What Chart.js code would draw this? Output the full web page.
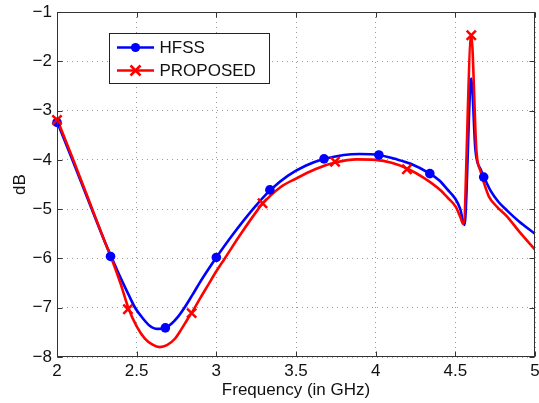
<!DOCTYPE html>
<html><head><meta charset="utf-8">
<script src="https://cdn.jsdelivr.net/npm/chart.js@4/dist/chart.umd.min.js"></script>
<style>html,body{margin:0;padding:0;background:#fff;overflow:hidden}</style>
</head><body>
<canvas id="c" width="539" height="403" style="display:block;width:539px;height:403px"></canvas>
<script>
// ---- data ----
const seriesNames = ['HFSS', 'PROPOSED'];
const xTicks = [2, 2.5, 3, 3.5, 4, 4.5, 5];
const yTicks = [-8, -7, -6, -5, -4, -3, -2, -1];

const hfssFreq = [2.00, 2.10, 2.20, 2.30, 2.34, 2.40, 2.45, 2.49, 2.54, 2.58, 2.63, 2.68, 2.72, 2.76, 2.80, 2.85, 2.90, 2.95, 3.00, 3.10, 3.23, 3.34, 3.45, 3.56, 3.68, 3.80, 3.90, 4.02, 4.12, 4.22, 4.34, 4.40, 4.45, 4.50, 4.53, 4.557, 4.60, 4.626, 4.66, 4.68, 4.72, 4.77, 4.825, 4.90, 5.00];
const hfssDb   = [-3.22, -4.03, -4.85, -5.66, -5.96, -6.40, -6.74, -7.00, -7.22, -7.36, -7.43, -7.41, -7.32, -7.18, -7.00, -6.74, -6.47, -6.22, -5.98, -5.53, -5.00, -4.61, -4.32, -4.12, -3.98, -3.90, -3.88, -3.90, -3.98, -4.08, -4.28, -4.42, -4.60, -4.79, -4.99, -5.32, -2.35, -3.80, -4.20, -4.35, -4.62, -4.85, -5.03, -5.25, -5.50];

const propFreq = [2.00, 2.10, 2.20, 2.30, 2.34, 2.40, 2.445, 2.50, 2.55, 2.60, 2.645, 2.69, 2.74, 2.78, 2.82, 2.85, 2.90, 2.95, 3.00, 3.053, 3.15, 3.263, 3.29, 3.40, 3.50, 3.62, 3.75, 3.88, 4.00, 4.10, 4.20, 4.30, 4.405, 4.45, 4.504, 4.53, 4.55, 4.60, 4.632, 4.66, 4.68, 4.71, 4.76, 4.825, 4.90, 5.00];
const propDb   = [-3.17, -3.98, -4.82, -5.66, -5.98, -6.52, -6.98, -7.38, -7.62, -7.75, -7.80, -7.76, -7.63, -7.44, -7.23, -7.08, -6.80, -6.53, -6.26, -6.00, -5.52, -5.00, -4.89, -4.56, -4.38, -4.19, -4.05, -3.99, -4.00, -4.06, -4.18, -4.36, -4.61, -4.76, -4.96, -5.15, -5.30, -1.47, -3.80, -4.25, -4.47, -4.74, -4.95, -5.15, -5.45, -5.82];

const hfssMarkFreq = [2.00, 2.336, 2.68, 3.00, 3.336, 3.676, 4.02, 4.34, 4.678];
const hfssMarkDb   = [-3.24, -5.96, -7.41, -5.98, -4.61, -3.98, -3.90, -4.28, -4.35];
const propMarkFreq = [2.00, 2.445, 2.845, 3.29, 3.745, 4.196, 4.60];
const propMarkDb   = [-3.19, -7.03, -7.11, -4.88, -4.04, -4.19, -1.47];

// ---- styling ----
const BLUE = '#0000ff', RED = '#ff0000';
const FONT = "'Liberation Sans', Arial, Helvetica, sans-serif";
const TXT = '#111111';
Chart.defaults.font.family = FONT;
Chart.defaults.font.size = 17;
Chart.defaults.color = TXT;

const pts = (xs, ys) => xs.map((x, i) => ({x: x, y: ys[i]}));
const minusFmt = v => (v < 0 ? '\u2212' + Math.abs(v) : String(v));

const framePlugin = {
  id: 'frame',
  afterDraw(chart) {
    const ctx = chart.ctx, a = chart.chartArea;
    const xs = chart.scales.x, ys = chart.scales.y;
    ctx.save();
    ctx.strokeStyle = '#333333';
    ctx.lineWidth = 1;
    const L = Math.round(a.left) + 0.5, R = Math.round(a.right) - 0.5;
    const T = Math.round(a.top) + 0.5, B = Math.round(a.bottom) - 0.5;
    ctx.strokeRect(L, T, R - L, B - T);
    ctx.beginPath();
    const tl = 5;
    xTicks.forEach(v => {
      const p = Math.round(xs.getPixelForValue(v)) + 0.5;
      ctx.moveTo(p, B); ctx.lineTo(p, B - tl);
      ctx.moveTo(p, T); ctx.lineTo(p, T + tl);
    });
    yTicks.forEach(v => {
      const p = Math.round(ys.getPixelForValue(v)) + 0.5;
      ctx.moveTo(L, p); ctx.lineTo(L + tl, p);
      ctx.moveTo(R, p); ctx.lineTo(R - tl, p);
    });
    ctx.stroke();

    // legend box
    const bx = 109.5, by = 33.5, bw = 160, bh = 50;
    ctx.fillStyle = '#ffffff';
    ctx.fillRect(bx, by, bw, bh);
    ctx.strokeStyle = '#222222';
    ctx.strokeRect(bx, by, bw, bh);
    const rows = [
      {name: seriesNames[0], color: BLUE, y: 47.5, mark: 'circle'},
      {name: seriesNames[1], color: RED, y: 70.5, mark: 'cross'}
    ];
    rows.forEach(r => {
      ctx.strokeStyle = r.color;
      ctx.lineWidth = 2.5;
      ctx.beginPath();
      ctx.moveTo(117, r.y); ctx.lineTo(154, r.y);
      ctx.stroke();
      if (r.mark === 'circle') {
        ctx.fillStyle = r.color;
        ctx.beginPath(); ctx.arc(135.5, r.y, 4.6, 0, Math.PI * 2); ctx.fill();
      } else {
        const s = 5;
        ctx.beginPath();
        ctx.moveTo(135.5 - s, r.y - s); ctx.lineTo(135.5 + s, r.y + s);
        ctx.moveTo(135.5 - s, r.y + s); ctx.lineTo(135.5 + s, r.y - s);
        ctx.stroke();
      }
      ctx.fillStyle = TXT;
      ctx.font = '17px ' + FONT;
      ctx.textBaseline = 'middle';
      ctx.textAlign = 'left';
      ctx.fillText(r.name, 159.5, r.y + 1);
    });
    ctx.restore();
  }
};

new Chart(document.getElementById('c'), {
  type: 'line',
  data: {
    datasets: [
      {label: seriesNames[1] + ' markers', data: pts(propMarkFreq, propMarkDb), showLine: false,
       pointStyle: 'crossRot', pointRadius: 6.5, pointBorderWidth: 2.5, borderColor: RED, backgroundColor: RED,
       clip: false, order: 0},
      {label: seriesNames[0] + ' markers', data: pts(hfssMarkFreq, hfssMarkDb), showLine: false,
       pointStyle: 'circle', pointRadius: 4.8, pointBorderWidth: 0, borderColor: BLUE, backgroundColor: BLUE,
       clip: false, order: 1},
      {label: seriesNames[1], data: pts(propFreq, propDb), borderColor: RED, borderWidth: 2.6,
       pointRadius: 0, cubicInterpolationMode: 'monotone', fill: false, order: 2},
      {label: seriesNames[0], data: pts(hfssFreq, hfssDb), borderColor: BLUE, borderWidth: 2.6,
       pointRadius: 0, cubicInterpolationMode: 'monotone', fill: false, order: 3}
    ]
  },
  options: {
    responsive: false,
    animation: false,
    devicePixelRatio: 1,
    layout: {autoPadding: false, padding: {left: 0, right: 4, top: 12, bottom: 0}},
    plugins: {legend: {display: false}, tooltip: {enabled: false}},
    scales: {
      x: {
        type: 'linear', min: 2, max: 5,
        afterBuildTicks: s => { s.ticks = xTicks.map(v => ({value: v})); },
        afterFit: s => { s.height = 46; s.paddingLeft = 0; s.paddingRight = 0; },
        ticks: {callback: v => minusFmt(v), padding: 4, maxRotation: 0, color: TXT, font: {size: 17}},
        grid: {color: '#9a9a9a', lineWidth: 1, drawTicks: false},
        border: {display: false, dash: [1, 4]},
        title: {display: true, text: 'Frequency (in GHz)', color: TXT, font: {size: 17}, padding: {top: 0, bottom: 2}}
      },
      y: {
        type: 'linear', min: -8, max: -1,
        afterBuildTicks: s => { s.ticks = yTicks.map(v => ({value: v})); },
        afterFit: s => { s.width = 57; s.paddingTop = 0; s.paddingBottom = 0; },
        ticks: {callback: v => minusFmt(v), padding: 5, color: TXT, font: {size: 17}},
        grid: {color: '#9a9a9a', lineWidth: 1, drawTicks: false},
        border: {display: false, dash: [1, 4]},
        title: {display: true, text: 'dB', color: TXT, font: {size: 17}, padding: {top: 10, bottom: 0}}
      }
    }
  },
  plugins: [framePlugin]
});
</script>
</body></html>
